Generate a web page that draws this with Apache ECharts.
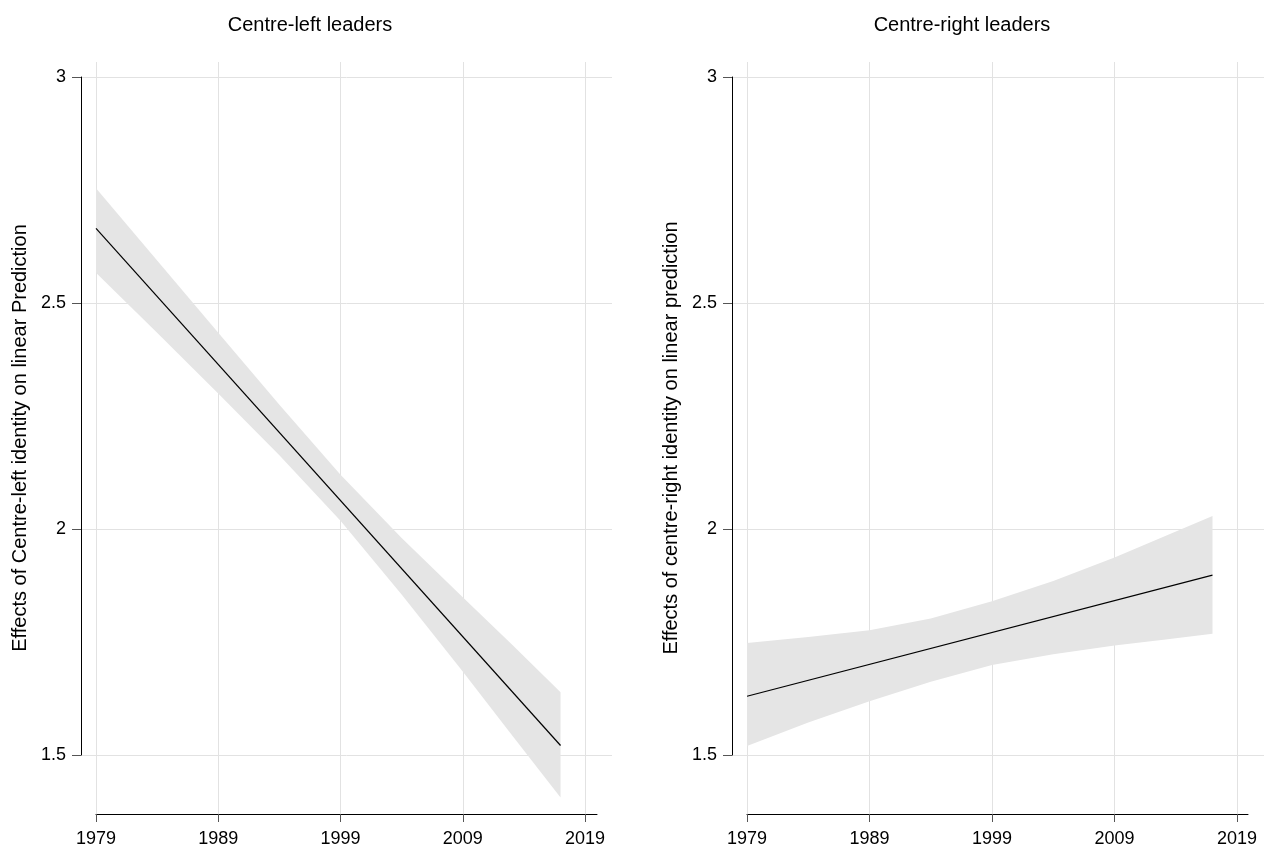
<!DOCTYPE html>
<html>
<head>
<meta charset="utf-8">
<title>Centre-left and centre-right leaders</title>
<script src="https://cdn.jsdelivr.net/npm/echarts@6/dist/echarts.min.js"></script>
<style>
  html, body { margin: 0; padding: 0; background: #fff; }
  #chart { width: 1275px; height: 851px; }
</style>
</head>
<body>
<div id="chart"></div>
<script>
const bandYears = [1979, 1984, 1989, 1994, 1999, 2004, 2009, 2013, 2017];
// the fitted line is straight, so only its two ends are needed
const lineYears = [1979, 2017];

// centre-left leaders
const leftUpper = [2.754, 2.594, 2.434, 2.275, 2.120, 1.980, 1.849, 1.745, 1.639];
const leftLower = [2.567, 2.434, 2.300, 2.163, 2.018, 1.855, 1.685, 1.545, 1.406];
const leftMean = [2.665, 1.521];

// centre-right leaders
const rightUpper = [1.748, 1.761, 1.776, 1.802, 1.840, 1.885, 1.937, 1.983, 2.029];
const rightLower = [1.520, 1.572, 1.619, 1.662, 1.699, 1.723, 1.742, 1.755, 1.768];
const rightMean = [1.630, 1.898];

const panelTitles = ['Centre-left leaders', 'Centre-right leaders'];
const yTitles = [
  'Effects of Centre-left identity on linear Prediction',
  'Effects of centre-right identity on linear prediction'
];

const FONT = '"Liberation Sans", Arial, Helvetica, sans-serif';
const GRID_COLOR = '#e2e2e2';
const BAND_COLOR = '#e5e5e5';

// pixel layout of each panel
const panels = [
  { yAxisX: 81, x0: 96, x1: 585, xAxisEnd: 597, hGridEnd: 612, titleX: 310,
    upper: leftUpper, lower: leftLower, mean: leftMean },
  { yAxisX: 732, x0: 747, x1: 1237, xAxisEnd: 1248, hGridEnd: 1264, titleX: 962,
    upper: rightUpper, lower: rightLower, mean: rightMean }
];
const Y_TOP = 77;      // value 3
const Y_BOT = 755;     // value 1.5
const V_TOP = 62;      // top of vertical grid lines
const X_AXIS_Y = 814;  // x axis line
const pxPerUnit = (Y_BOT - Y_TOP) / 1.5;

let grid = [], xAxis = [], yAxis = [], series = [], graphic = [];

panels.forEach(function (p, i) {
  const g = grid.length;
  // A: y axis + horizontal grid lines
  grid.push({ left: p.yAxisX, top: Y_TOP, width: p.hGridEnd - p.yAxisX, height: Y_BOT - Y_TOP });
  // B: data, vertical grid lines, x ticks and labels
  grid.push({ left: p.x0, top: V_TOP, width: p.x1 - p.x0, height: X_AXIS_Y - V_TOP });
  // C: x axis line only (runs a bit past 2019)
  grid.push({ left: p.x0, top: X_AXIS_Y - 10, width: p.xAxisEnd - p.x0, height: 10 });

  xAxis.push({ type: 'value', gridIndex: g, show: false, min: 0, max: 1 });
  yAxis.push({
    type: 'value', gridIndex: g, min: 1.5, max: 3, interval: 0.5,
    axisLine: { show: true, onZero: false, lineStyle: { color: '#000', width: 1 } },
    axisTick: { show: true, length: 9, lineStyle: { color: '#555' } },
    axisLabel: { fontSize: 18, fontFamily: FONT, color: '#000', margin: 15 },
    splitLine: { show: true, lineStyle: { color: GRID_COLOR, width: 1 } }
  });

  xAxis.push({
    type: 'value', gridIndex: g + 1, min: 1979, max: 2019, interval: 10,
    axisLine: { show: false },
    axisTick: { show: true, length: 8, lineStyle: { color: '#555' } },
    axisLabel: { fontSize: 18, fontFamily: FONT, color: '#000', margin: 16,
      formatter: function (v) { return String(v); } },
    splitLine: { show: true, lineStyle: { color: GRID_COLOR, width: 1 } }
  });
  yAxis.push({
    type: 'value', gridIndex: g + 1,
    min: 1.5 - (X_AXIS_Y - Y_BOT) / pxPerUnit,
    max: 3 + (Y_TOP - V_TOP) / pxPerUnit,
    axisLine: { show: false }, axisTick: { show: false },
    axisLabel: { show: false }, splitLine: { show: false },
    name: yTitles[i], nameLocation: 'middle', nameGap: 66,
    nameTextStyle: { fontSize: 20, fontFamily: FONT, color: '#000' }
  });

  xAxis.push({
    type: 'value', gridIndex: g + 2, min: 0, max: 1,
    axisLine: { show: true, onZero: false, lineStyle: { color: '#000', width: 1 } },
    axisTick: { show: false }, axisLabel: { show: false }, splitLine: { show: false }
  });
  yAxis.push({ type: 'value', gridIndex: g + 2, show: false, min: 0, max: 1 });

  const xi = xAxis.length - 2, yi = yAxis.length - 2;

  // confidence band: one polygon, upper edge forward then lower edge back
  series.push({
    type: 'custom', xAxisIndex: xi, yAxisIndex: yi, silent: true, z: 2,
    data: bandYears.map(function (y, k) { return [y, p.lower[k], p.upper[k]]; }),
    encode: { x: 0, y: [1, 2] },
    renderItem: function (params, api) {
      if (params.dataIndex !== 0) return;
      const pts = [];
      bandYears.forEach(function (y, k) { pts.push(api.coord([y, p.upper[k]])); });
      for (let k = bandYears.length - 1; k >= 0; k--) {
        pts.push(api.coord([bandYears[k], p.lower[k]]));
      }
      return { type: 'polygon', shape: { points: pts }, style: { fill: BAND_COLOR } };
    }
  });
  series.push({
    type: 'line', xAxisIndex: xi, yAxisIndex: yi,
    data: lineYears.map(function (y, k) { return [y, p.mean[k]]; }),
    symbol: 'none', silent: true, lineStyle: { color: '#000', width: 1.2 }, z: 3
  });

  graphic.push({
    type: 'text', x: p.titleX, y: 25,
    style: { text: panelTitles[i], fill: '#000', font: '20px ' + FONT,
      align: 'center', verticalAlign: 'middle' }
  });
});

const chart = echarts.init(document.getElementById('chart'));
chart.setOption({
  backgroundColor: '#fff',
  animation: false,
  grid: grid,
  xAxis: xAxis,
  yAxis: yAxis,
  series: series,
  graphic: graphic
});
</script>
</body>
</html>
